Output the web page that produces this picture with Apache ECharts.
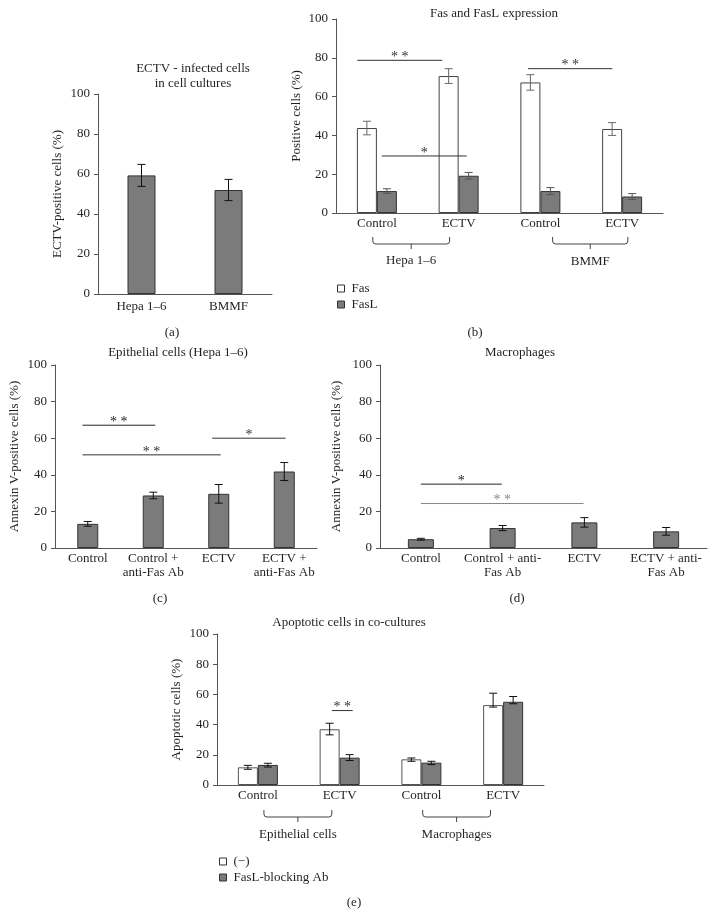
<!DOCTYPE html>
<html><head><meta charset="utf-8">
<script src="https://cdn.jsdelivr.net/npm/echarts@6/dist/echarts.min.js"></script>
<style>html,body{margin:0;padding:0;background:#fff}#c{width:715px;height:918px}</style>
</head><body><div id="c"></div>
<script>
// ---------------- data ----------------
const aCategories = ['Hepa 1–6', 'BMMF'];
const aValues = [59.3, 52.0];
const aErr = [5.5, 5.3];

const bCategories = ['Control', 'ECTV', 'Control', 'ECTV'];
const bGroupNames = ['Hepa 1–6', 'BMMF'];
const bFas = [43.8, 70.6, 67.3, 43.3];
const bFasErr = [3.5, 3.8, 4.0, 3.3];
const bFasL = [11.3, 19.2, 11.3, 8.5];
const bFasLErr = [1.2, 1.7, 1.8, 1.5];

const cCategories = ['Control', 'Control +\nanti-Fas Ab', 'ECTV', 'ECTV +\nanti-Fas Ab'];
const cValues = [13.2, 28.7, 29.6, 41.8];
const cErr = [1.3, 1.8, 5.1, 4.9];

const dCategories = ['Control', 'Control + anti-\nFas Ab', 'ECTV', 'ECTV + anti-\nFas Ab'];
const dValues = [4.8, 10.9, 14.0, 9.1];
const dErr = [0.5, 1.4, 2.6, 2.1];

const eCategories = ['Control', 'ECTV', 'Control', 'ECTV'];
const eGroupNames = ['Epithelial cells', 'Macrophages'];
const eMinus = [11.7, 36.9, 17.0, 52.9];
const eMinusLow = [10.4, 33.2, 15.7, 51.6];
const eMinusHigh = [13.0, 40.9, 17.9, 60.8];
const eBlock = [13.3, 18.1, 14.8, 55.1];
const eBlockLow = [11.9, 16.2, 13.5, 53.8];
const eBlockHigh = [14.4, 20.1, 15.7, 58.6];

const yTicks = {min: 0, max: 100, interval: 20};

// ---------------- annotations (significance lines, brackets) ----------------
const bSig = [{from: -0.24, to: 0.80, y: 78.7, mark: '* *', color: '#333'},
              {from: 0.06, to: 1.10, y: 29.4, mark: '*', color: '#333'},
              {from: 1.85, to: 2.88, y: 74.4, mark: '* *', color: '#333'}];
const cSig = [{from: -0.08, to: 1.03, y: 67.1, mark: '* *', color: '#222'},
              {from: -0.08, to: 2.03, y: 50.9, mark: '* *', color: '#333'},
              {from: 1.90, to: 3.02, y: 60.0, mark: '*', color: '#333'}];
const dSig = [{from: 0.0, to: 0.99, y: 34.9, mark: '*', color: '#222'},
              {from: 0.0, to: 1.99, y: 24.3, mark: '* *', color: '#888'}];
const eSig = [{from: 0.905, to: 1.16, y: 49.3, mark: '* *', color: '#333'}];
const bBrackets = [{from: -0.05, to: 0.89, top: 24, labelDy: 48},
                   {from: 2.15, to: 3.07, top: 24, labelDy: 49}];
const eBrackets = [{from: 0.074, to: 0.905, top: 25, labelDy: 50},
                   {from: 2.016, to: 2.846, top: 25, labelDy: 50}];

// ---------------- styles ----------------
const FONT = '"Liberation Serif", "Times New Roman", serif';
const TXT = '#231f20';
const AX = '#555';
const DARK = '#7b7b7b';
const EDGE = '#333';

const chart = echarts.init(document.getElementById('c'), null, {renderer: 'canvas', width: 715, height: 918});

const grids = [
  {left: 98, top: 94, width: 174, height: 200},
  {left: 336, top: 19, width: 327, height: 194},
  {left: 55, top: 365, width: 262, height: 183},
  {left: 380, top: 365, width: 327, height: 183},
  {left: 217, top: 634, width: 327, height: 151}
];
const cats = [aCategories, bCategories, cCategories, dCategories, eCategories];
const yNames = ['ECTV-positive cells (%)', 'Positive cells (%)', 'Annexin V-positive cells (%)',
                'Annexin V-positive cells (%)', 'Apoptotic cells (%)'];
const nameGaps = [33.5, 33, 33.5, 37, 33.5];
const labelMargins = [6, 4, 4, 4, 3.5];

const xAxes = cats.map((c, i) => ({
  type: 'category', gridIndex: i, data: c,
  axisLine: {onZero: false, lineStyle: {color: AX, width: 1}}, axisTick: {show: false},
  axisLabel: {color: TXT, fontFamily: FONT, fontSize: 13, margin: labelMargins[i], lineHeight: 13.5, interval: 0}
})).concat(cats.map((c, i) => ({
  type: 'value', gridIndex: i, min: -0.5, max: c.length - 0.5, show: false, position: 'top',
  axisLine: {onZero: false}
})));

const yAxes = cats.map((c, i) => ({
  type: 'value', gridIndex: i, min: yTicks.min, max: yTicks.max, interval: yTicks.interval,
  axisLine: {show: true, onZero: false, lineStyle: {color: AX, width: 1}},
  axisTick: {show: true, length: 4, lineStyle: {color: AX}},
  splitLine: {show: false},
  axisLabel: {color: TXT, fontFamily: FONT, fontSize: 13, margin: 8},
  name: yNames[i], nameLocation: 'middle', nameGap: nameGaps[i],
  nameTextStyle: {color: TXT, fontFamily: FONT, fontSize: 13}
}));

function errSeries(xi, yi, lows, highs, offset, color, cap) {
  return {
    type: 'custom', xAxisIndex: xi, yAxisIndex: yi, z: 5, silent: true, clip: false,
    data: lows.map((l, i) => [i, l, highs[i]]),
    renderItem: (params, api) => {
      const lo = api.coord([api.value(0), api.value(1)]);
      const hi = api.coord([api.value(0), api.value(2)]);
      const x = lo[0] + offset;
      const st = {stroke: color, lineWidth: 1};
      return {type: 'group', children: [
        {type: 'line', shape: {x1: x, y1: lo[1], x2: x, y2: hi[1]}, style: st},
        {type: 'line', shape: {x1: x - cap, y1: lo[1], x2: x + cap, y2: lo[1]}, style: st},
        {type: 'line', shape: {x1: x - cap, y1: hi[1], x2: x + cap, y2: hi[1]}, style: st}
      ]};
    }
  };
}
function sigSeries(xi, yi, sig) {
  return {
    type: 'custom', xAxisIndex: xi, yAxisIndex: yi, z: 6, silent: true, clip: false,
    data: sig.map(s => [s.from, s.y]),
    renderItem: (params, api) => {
      const s = sig[params.dataIndex];
      const p1 = api.coord([s.from, s.y]), p2 = api.coord([s.to, s.y]);
      return {type: 'group', children: [
        {type: 'line', shape: {x1: p1[0], y1: p1[1], x2: p2[0], y2: p2[1]}, style: {stroke: s.color, lineWidth: 1}},
        {type: 'text', x: (p1[0] + p2[0]) / 2, y: p1[1] - 3,
         style: {text: s.mark, fill: s.color, font: '14px ' + FONT, align: 'center', verticalAlign: 'middle'}}
      ]};
    }
  };
}
function bracketSeries(xi, yi, spans, names) {
  return {
    type: 'custom', xAxisIndex: xi, yAxisIndex: yi, z: 6, silent: true, clip: false,
    data: spans.map(s => [s.from, 0]),
    renderItem: (params, api) => {
      const s = spans[params.dataIndex];
      const a = api.coord([s.from, 0]), b = api.coord([s.to, 0]);
      const L = a[0], R = b[0], C = (L + R) / 2, base = a[1];
      const T = base + s.top, H = T + 7, B = H + 5, r = 3;
      const d = `M${L} ${T}L${L} ${H - r}Q${L} ${H} ${L + r} ${H}L${R - r} ${H}Q${R} ${H} ${R} ${H - r}L${R} ${T}M${C} ${H}L${C} ${B}`;
      return {type: 'group', children: [
        {type: 'path', shape: {pathData: d}, style: {stroke: '#444', fill: 'none', lineWidth: 1}},
        {type: 'text', x: C, y: base + s.labelDy,
         style: {text: names[params.dataIndex], fill: TXT, font: '13px ' + FONT, align: 'center', verticalAlign: 'middle'}}
      ]};
    }
  };
}
const lowOf = (v, e) => v.map((x, i) => x - e[i]);
const highOf = (v, e) => v.map((x, i) => x + e[i]);

const darkStyle = {color: DARK, borderColor: EDGE, borderWidth: 1};
const whiteStyle = {color: '#ffffff', borderColor: '#444', borderWidth: 1};

const series = [
  // (a)
  {type: 'bar', name: 'a', xAxisIndex: 0, yAxisIndex: 0, data: aValues, barWidth: 28, itemStyle: darkStyle, silent: true},
  errSeries(0, 0, lowOf(aValues, aErr), highOf(aValues, aErr), 0, '#111', 4),
  // (b)
  {type: 'bar', name: 'Fas', xAxisIndex: 1, yAxisIndex: 1, data: bFas, barWidth: 20, barGap: '0%', itemStyle: whiteStyle, silent: true},
  {type: 'bar', name: 'FasL', xAxisIndex: 1, yAxisIndex: 1, data: bFasL, barWidth: 20, barGap: '0%', itemStyle: darkStyle, silent: true},
  errSeries(1, 1, lowOf(bFas, bFasErr), highOf(bFas, bFasErr), -10, '#666', 4),
  errSeries(1, 1, lowOf(bFasL, bFasLErr), highOf(bFasL, bFasLErr), 10, '#555', 4),
  sigSeries(6, 1, bSig),
  bracketSeries(6, 1, bBrackets, bGroupNames),
  // (c)
  {type: 'bar', name: 'c', xAxisIndex: 2, yAxisIndex: 2, data: cValues, barWidth: 21, itemStyle: darkStyle, silent: true},
  errSeries(2, 2, lowOf(cValues, cErr), highOf(cValues, cErr), 0, '#111', 4),
  sigSeries(7, 2, cSig),
  // (d)
  {type: 'bar', name: 'd', xAxisIndex: 3, yAxisIndex: 3, data: dValues, barWidth: 26, itemStyle: darkStyle, silent: true},
  errSeries(3, 3, lowOf(dValues, dErr), highOf(dValues, dErr), 0, '#111', 4),
  sigSeries(8, 3, dSig),
  // (e)
  {type: 'bar', name: '(−)', xAxisIndex: 4, yAxisIndex: 4, data: eMinus, barWidth: 20, barGap: '0%', itemStyle: {color: '#fff', borderColor: '#555', borderWidth: 1}, silent: true},
  {type: 'bar', name: 'FasL-blocking Ab', xAxisIndex: 4, yAxisIndex: 4, data: eBlock, barWidth: 20, barGap: '0%', itemStyle: darkStyle, silent: true},
  errSeries(4, 4, eMinusLow, eMinusHigh, -10, '#111', 4),
  errSeries(4, 4, eBlockLow, eBlockHigh, 10, '#111', 4),
  sigSeries(9, 4, eSig),
  bracketSeries(9, 4, eBrackets, eGroupNames)
];

const legendBase = {orient: 'vertical', icon: 'rect', itemWidth: 7, itemHeight: 7, itemGap: 3, padding: 0,
  selectedMode: false, textStyle: {fontFamily: FONT, fontSize: 13, color: TXT, padding: [0, 0, 0, 2]}};

function txt(text, x, y) {
  return {type: 'text', x: x, y: y, silent: true,
    style: {text: text, fill: TXT, font: '13px ' + FONT, align: 'center', verticalAlign: 'middle', lineHeight: 15}};
}

chart.setOption({
  animation: false,
  backgroundColor: '#fff',
  grid: grids,
  xAxis: xAxes,
  yAxis: yAxes,
  legend: [
    Object.assign({}, legendBase, {left: 337, top: 282, data: [
      {name: 'Fas', itemStyle: {color: '#fff', borderColor: '#333', borderWidth: 1}},
      {name: 'FasL', itemStyle: {color: DARK, borderColor: '#333', borderWidth: 1}}]}),
    Object.assign({}, legendBase, {left: 219, top: 855, data: [
      {name: '(−)', itemStyle: {color: '#fff', borderColor: '#333', borderWidth: 1}},
      {name: 'FasL-blocking Ab', itemStyle: {color: DARK, borderColor: '#333', borderWidth: 1}}]})
  ],
  graphic: [
    txt('ECTV - infected cells\nin cell cultures', 193, 76.5),
    txt('Fas and FasL expression', 494, 13.5),
    txt('Epithelial cells (Hepa 1–6)', 178, 353),
    txt('Macrophages', 520, 353),
    txt('Apoptotic cells in co-cultures', 349, 623),
    txt('(a)', 172, 333),
    txt('(b)', 475, 333),
    txt('(c)', 160, 599),
    txt('(d)', 517, 599),
    txt('(e)', 354, 903)
  ],
  series: series
});
</script>
</body></html>
